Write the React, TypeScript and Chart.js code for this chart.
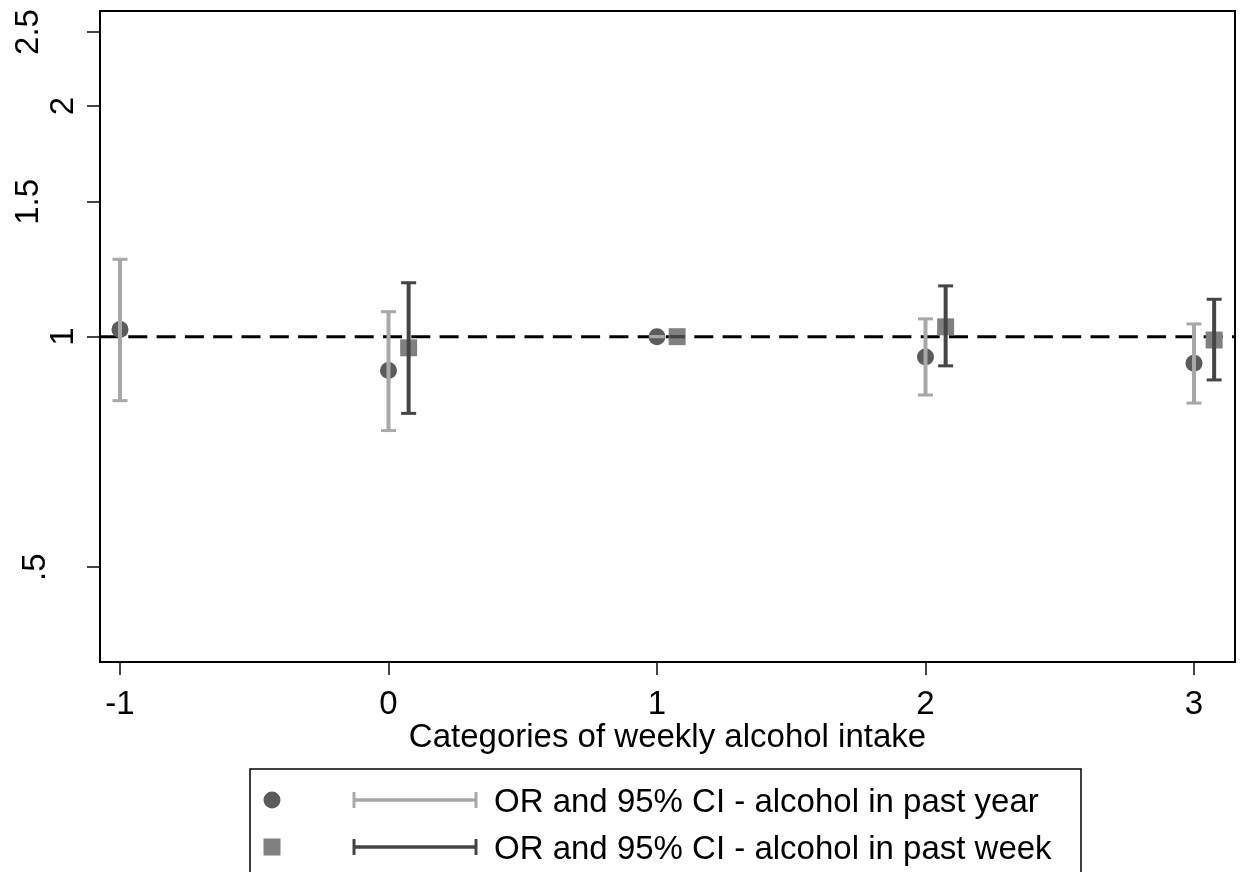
import React, { useEffect, useRef } from "react";
import { Chart, registerables } from "chart.js";

Chart.register(...registerables);

// ---- Data ----
const categories = [-1, 0, 1, 2, 3];
const weekOffset = 0.075;

const yearOR = [1.022, 0.903, 1.0, 0.941, 0.923];
const yearLo = [0.825, 0.754, 1.0, 0.839, 0.819];
const yearHi = [1.262, 1.078, 1.0, 1.055, 1.039];

const weekOR: (number | null)[] = [null, 0.967, 1.0, 1.03, 0.99];
const weekLo: (number | null)[] = [null, 0.794, 1.0, 0.916, 0.878];
const weekHi: (number | null)[] = [null, 1.176, 1.0, 1.165, 1.119];

const xTicks = [-1, 0, 1, 2, 3];
const xTickLabels = ["-1", "0", "1", "2", "3"];
const yTicks = [0.5, 1, 1.5, 2, 2.5];
const yTickLabels = [".5", "1", "1.5", "2", "2.5"];

const xTitle = "Categories of weekly alcohol intake";
const legendLabels = [
  "OR and 95% CI - alcohol in past year",
  "OR and 95% CI - alcohol in past week",
];

const FONT = '"Liberation Sans", Arial, sans-serif';
const COL_CIRCLE = "#5b5b5b";
const COL_SQUARE = "#808080";
const COL_YEAR_CI = "#a8a8a8";
const COL_WEEK_CI = "#454545";

export default function App() {
  const ref = useRef<HTMLCanvasElement | null>(null);

  useEffect(() => {
    const canvas = ref.current;
    if (!canvas) return;

    const drawCap = (ctx: CanvasRenderingContext2D, x: number, y: number, w: number) => {
      ctx.beginPath();
      ctx.moveTo(x - w / 2, y);
      ctx.lineTo(x + w / 2, y);
      ctx.stroke();
    };

    const plugin = {
      id: "stataExtras",
      beforeDatasetsDraw(chart: any) {
        const { ctx, chartArea, scales } = chart;
        const y1 = scales.y.getPixelForValue(1);
        ctx.save();
        ctx.strokeStyle = "#000";
        ctx.lineWidth = 3;
        ctx.setLineDash([19, 9.3]);
        ctx.beginPath();
        ctx.moveTo(chartArea.left, y1);
        ctx.lineTo(chartArea.right, y1);
        ctx.stroke();
        ctx.restore();
      },
      afterDatasetsDraw(chart: any) {
        const { ctx, scales } = chart;
        const xs = scales.x;
        const ys = scales.y;
        ctx.save();
        ctx.lineCap = "butt";
        const series = [
          { lo: yearLo, hi: yearHi, off: 0, color: COL_YEAR_CI },
          { lo: weekLo, hi: weekHi, off: weekOffset, color: COL_WEEK_CI },
        ];
        series.forEach((s) => {
          categories.forEach((c, i) => {
            const lo = s.lo[i];
            const hi = s.hi[i];
            if (lo == null || hi == null) return;
            const x = xs.getPixelForValue(c + s.off);
            const yl = ys.getPixelForValue(lo);
            const yh = ys.getPixelForValue(hi);
            ctx.strokeStyle = s.color;
            ctx.lineWidth = 4;
            ctx.beginPath();
            ctx.moveTo(x, yl);
            ctx.lineTo(x, yh);
            ctx.stroke();
            ctx.lineWidth = 3;
            drawCap(ctx, x, yl, 15);
            drawCap(ctx, x, yh, 15);
          });
        });
        ctx.restore();
      },
      afterDraw(chart: any) {
        const { ctx, chartArea, scales } = chart;
        ctx.save();
        // plot box
        ctx.strokeStyle = "#000";
        ctx.lineWidth = 2;
        ctx.strokeRect(
          chartArea.left,
          chartArea.top,
          chartArea.right - chartArea.left,
          chartArea.bottom - chartArea.top
        );

        ctx.fillStyle = "#000";
        ctx.font = `33px ${FONT}`;
        // x tick labels
        ctx.textAlign = "center";
        ctx.textBaseline = "alphabetic";
        scales.x.ticks.forEach((t: any, i: number) => {
          const x = scales.x.getPixelForValue(t.value);
          ctx.fillText(xTickLabels[i], x, 714);
        });
        // y tick labels, rotated
        scales.y.ticks.forEach((t: any, i: number) => {
          const y = scales.y.getPixelForValue(t.value);
          const lab = yTickLabels[i];
          const bx = lab.length === 1 ? 73 : lab.length === 2 ? 45 : 38;
          ctx.save();
          ctx.translate(bx, y);
          ctx.rotate(-Math.PI / 2);
          ctx.textAlign = "center";
          ctx.fillText(lab, 0, 0);
          ctx.restore();
        });
        // x title
        ctx.textAlign = "center";
        ctx.fillText(xTitle, (chartArea.left + chartArea.right) / 2, 747);

        // legend
        ctx.lineWidth = 1.5;
        ctx.strokeStyle = "#000";
        ctx.strokeRect(250, 769, 831, 120);
        const rows = [800, 847];
        // markers
        ctx.fillStyle = COL_CIRCLE;
        ctx.beginPath();
        ctx.arc(272, rows[0], 8.5, 0, Math.PI * 2);
        ctx.fill();
        ctx.fillStyle = COL_SQUARE;
        ctx.fillRect(263.5, rows[1] - 8.5, 17, 17);
        // CI samples
        const cols = [COL_YEAR_CI, COL_WEEK_CI];
        rows.forEach((ry, k) => {
          ctx.strokeStyle = cols[k];
          ctx.lineWidth = 3.5;
          ctx.beginPath();
          ctx.moveTo(354, ry);
          ctx.lineTo(476, ry);
          ctx.stroke();
          ctx.lineWidth = 3;
          ctx.beginPath();
          ctx.moveTo(354, ry - 8);
          ctx.lineTo(354, ry + 8);
          ctx.moveTo(476, ry - 8);
          ctx.lineTo(476, ry + 8);
          ctx.stroke();
        });
        ctx.fillStyle = "#000";
        ctx.textAlign = "left";
        legendLabels.forEach((l, k) => {
          ctx.fillText(l, 494, rows[k] + 12);
        });
        ctx.restore();
      },
    };

    const chart = new Chart(canvas, {
      type: "scatter",
      data: {
        datasets: [
          {
            label: legendLabels[0],
            data: categories.map((c, i) => ({ x: c, y: yearOR[i] })),
            pointStyle: "circle",
            pointRadius: 8.5,
            backgroundColor: COL_CIRCLE,
            borderWidth: 0,
          },
          {
            label: legendLabels[1],
            data: categories
              .map((c, i) => ({ x: c + weekOffset, y: weekOR[i] }))
              .filter((p) => p.y != null) as any,
            pointStyle: "rect",
            pointRadius: 12,
            backgroundColor: COL_SQUARE,
            borderWidth: 0,
          },
        ],
      },
      options: {
        responsive: false,
        animation: false,
        layout: { autoPadding: false, padding: { top: 11, right: 8, left: 0, bottom: 0 } },
        plugins: { legend: { display: false }, tooltip: { enabled: false } },
        scales: {
          x: {
            type: "linear",
            min: -1.0745,
            max: 3.1527,
            afterFit: (s: any) => {
              s.height = 210;
            },
            afterBuildTicks: (s: any) => {
              s.ticks = xTicks.map((v) => ({ value: v }));
            },
            ticks: { display: false },
            grid: {
              drawOnChartArea: false,
              drawTicks: true,
              tickLength: 13,
              color: "#444",
              lineWidth: 2,
            },
            border: { display: false },
          },
          y: {
            type: "logarithmic",
            min: 0.3759,
            max: 2.663,
            afterFit: (s: any) => {
              s.width = 100;
            },
            afterBuildTicks: (s: any) => {
              s.ticks = yTicks.map((v) => ({ value: v }));
            },
            ticks: { display: false },
            grid: {
              drawOnChartArea: false,
              drawTicks: true,
              tickLength: 13,
              color: "#444",
              lineWidth: 2,
            },
            border: { display: false },
          },
        },
      } as any,
      plugins: [plugin],
    });

    return () => chart.destroy();
  }, []);

  return (
    <div style={{ position: "fixed", left: 0, top: 0, width: 1243, height: 872, background: "#fff" }}>
      <canvas ref={ref} width={1243} height={872} style={{ display: "block" }} />
    </div>
  );
}
